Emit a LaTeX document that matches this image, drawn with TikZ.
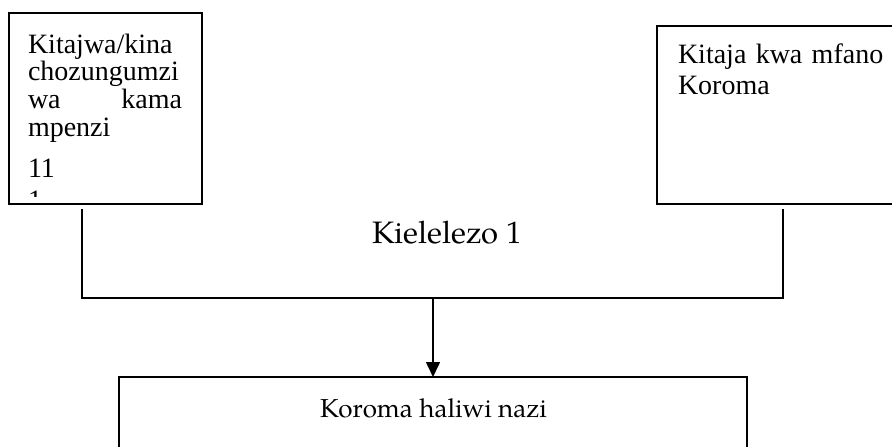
\documentclass[tikz,border=0pt]{standalone}
\usepackage{fontspec}
\setmainfont{Liberation Serif}
\newfontfamily\palfont{TeX Gyre Pagella}
\usetikzlibrary{arrows.meta}
\begin{document}
\begin{tikzpicture}[x=1pt,y=-1pt,
  box/.style={draw, line width=1.6pt, inner sep=0, outer sep=0},
  conn/.style={line width=1.6pt},
  txt/.style={inner sep=0, outer sep=0, anchor=base west, align=left},
  caption/.style={inner sep=0, outer sep=0, anchor=base}]
  \useasboundingbox (0,0) rectangle (892,447);
  \clip (0,0) rectangle (892,447);

  % three boxes (right and bottom ones run past the page edge)
  \node[box, minimum width=193pt, minimum height=191pt] (lbox) at (105.5,108.5) {};
  \node[box, minimum width=253pt, minimum height=178pt] (rbox) at (783.5,115) {};
  \node[box, minimum width=628pt, minimum height=93pt] (bbox) at (433,423.5) {};

  % text of the left box, cut off at its inner margin
  \begin{scope}
    \clip (lbox.north west) rectangle ([yshift=8pt]lbox.south east);
    \node[txt, text width=154pt, font=\fontsize{28}{27.7}\selectfont] (ltext) at (28,53)
      {Kitajwa/kina\\chozungumzi\\wa\hspace{0pt plus 1filll}kama\\mpenzi\\[14pt]11\\[4pt]1};
  \end{scope}

  \node[txt, text width=210pt, font=\fontsize{28}{32}\selectfont] (rtext) at (678,63) {Kitaja kwa mfano\\Koroma};

  \node[caption, font=\palfont\fontsize{31}{36}\selectfont] (fig) at (447,243) {Kielelezo 1};
  \node[caption, font=\palfont\fontsize{26}{30}\selectfont] (btext) at (433.5,417) {Koroma haliwi nazi};

  % joining lines and the arrow
  \coordinate (ljoin) at (82,298);
  \coordinate (rjoin) at (783,298);
  \coordinate (mid) at (433,298);
  \draw[conn] ([yshift=-5pt]lbox.south -| ljoin) -- (ljoin) -- (rjoin) -- ([yshift=-5pt]rbox.south -| rjoin);
  \draw[conn, -{Triangle[length=15pt,width=14pt]}] (mid) -- (bbox.north -| mid);
\end{tikzpicture}
\end{document}
